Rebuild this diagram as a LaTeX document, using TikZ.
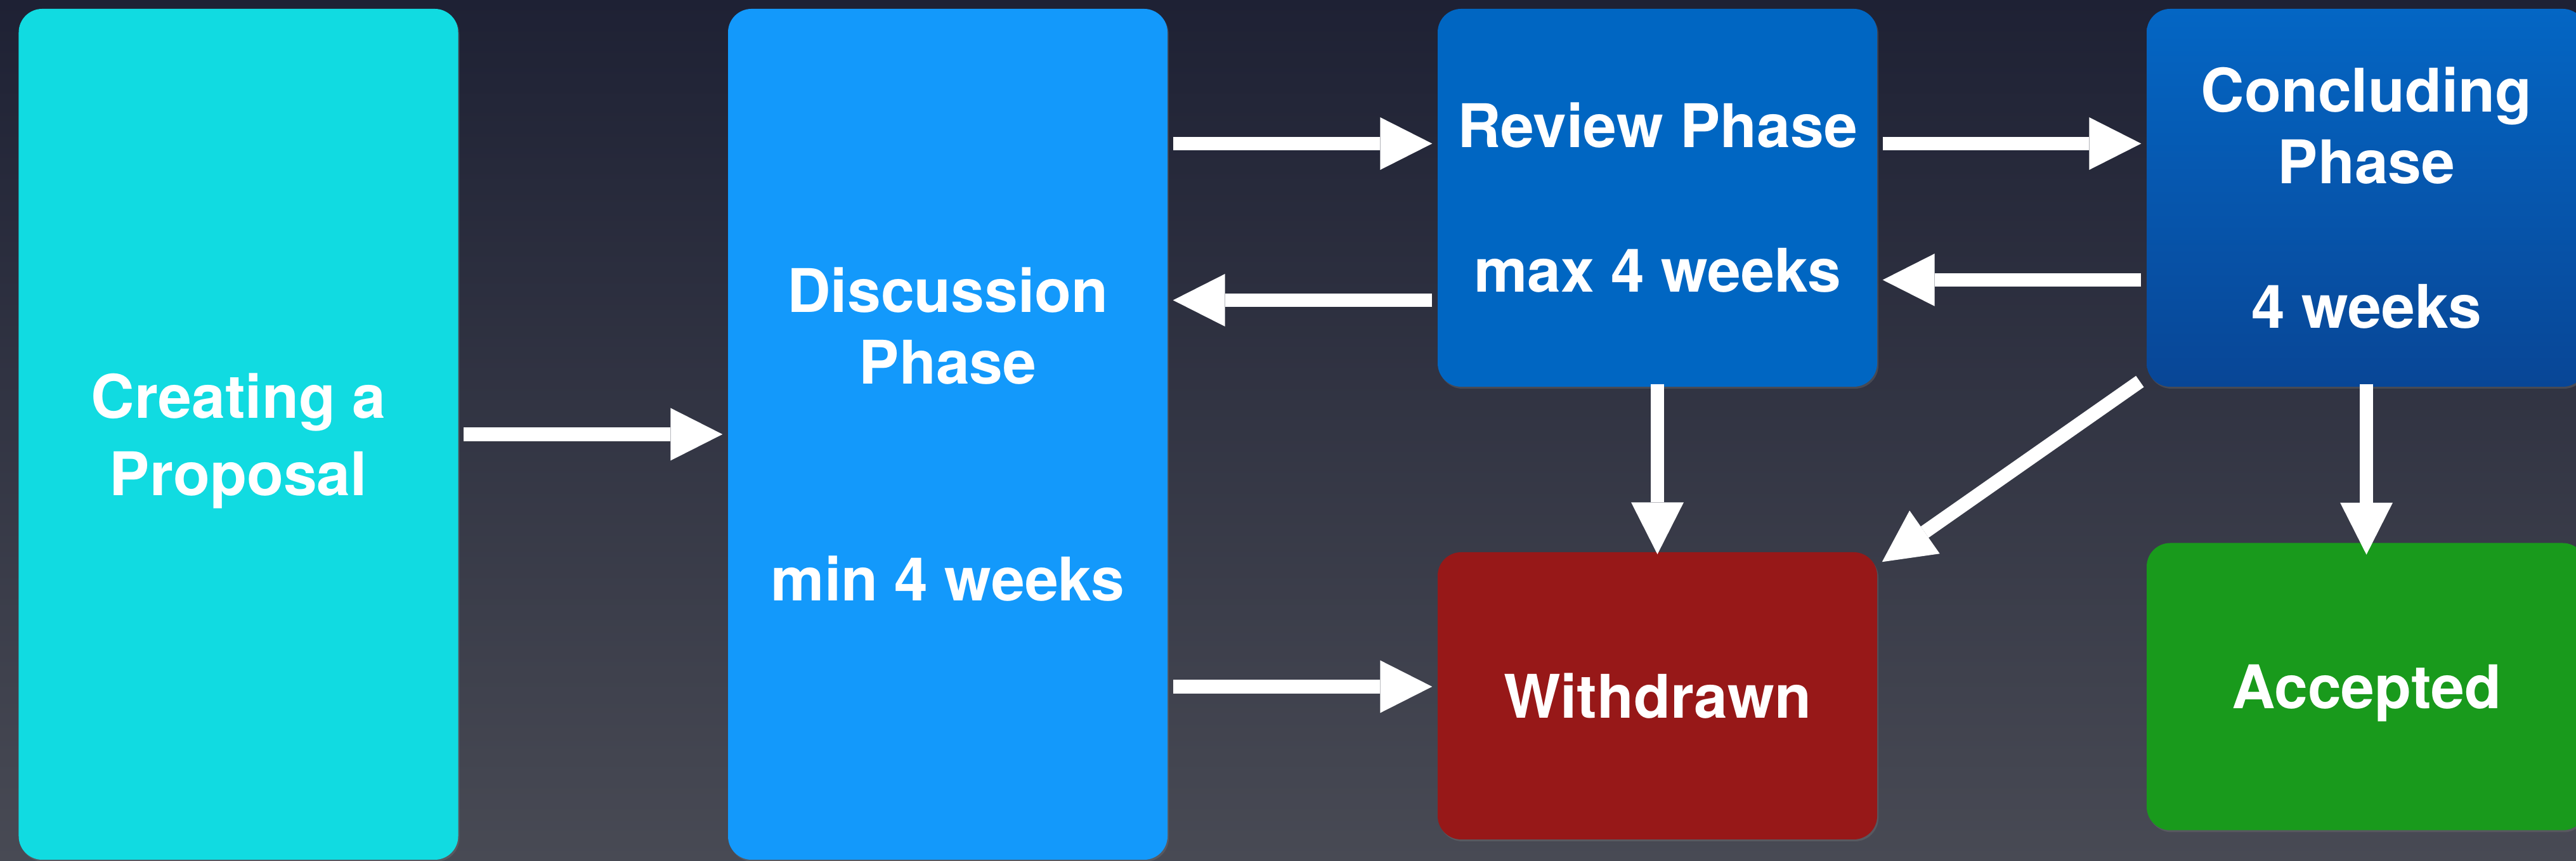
\documentclass[tikz,border=0pt]{standalone}
\usepackage{fontspec}
\setmainfont{TeX Gyre Heros}
\usepackage{tikz}
\usetikzlibrary{shapes.geometric, arrows.meta, shadows}
\definecolor{bgtop}{RGB}{30,33,52}
\definecolor{bgbottom}{RGB}{72,74,84}
\definecolor{createcol}{RGB}{17,219,225}
\definecolor{discusscol}{RGB}{19,153,251}
\definecolor{reviewcol}{RGB}{0,102,194}
\definecolor{concludetop}{RGB}{4,102,196}
\definecolor{concludebottom}{RGB}{8,70,150}
\definecolor{withdrawncol}{RGB}{151,24,24}
\definecolor{acceptedcol}{RGB}{25,154,28}
\newcommand{\phasefont}{\fontsize{27}{32.4}\selectfont\bfseries}
\tikzstyle{phase} = [rectangle, rounded corners = 0.37cm, minimum width = 6.93cm, align = center, text = white, font = \phasefont, drop shadow = {shadow xshift = 0.02cm, shadow yshift = -0.03cm, opacity = 0.3}]
\tikzstyle{tallphase} = [phase, minimum height = 13.42cm]
\tikzstyle{shortphase} = [phase, minimum height = 5.96cm]
\tikzstyle{outcome} = [phase, minimum height = 4.53cm]
\tikzstyle{flow} = [draw = white, line width = 0.216cm, -{Triangle[length = 0.82cm, width = 0.83cm, line width = 0pt]}, shorten <= 0.08cm, shorten >= 0.08cm]

\begin{document}
\begin{tikzpicture}
	\shade [top color = bgtop, bottom color = bgbottom] (-3.76, -6.73) rectangle (36.86, 6.85);
	\useasboundingbox (-3.76, -6.73) rectangle (36.86, 6.85);

	\node (create)[tallphase, fill = createcol, text depth = 0pt]{Creating a\\[0.075cm]Proposal};
	\node (discuss)[tallphase, fill = discusscol, right of = create, xshift = 10.185cm]{Discussion\\Phase\\[2.28cm]min 4 weeks};
	\node (review)[shortphase, fill = reviewcol, right of = discuss, xshift = 10.19cm, yshift = 3.73cm]{Review Phase\\[1.14cm]max 4 weeks};
	\node (conclude)[shortphase, top color = concludetop, bottom color = concludebottom, right of = review, xshift = 10.18cm]{Concluding\\Phase\\[1.14cm]4 weeks};
	\node (withdrawn)[outcome, fill = withdrawncol, below of = review, yshift = -6.855cm]{Withdrawn};
	\node (accepted)[outcome, fill = acceptedcol, text depth = 0pt, below of = conclude, yshift = -6.71cm]{Accepted};

	\coordinate (toreview) at ([yshift = 0.855cm]review.west);
	\coordinate (todiscuss) at ([yshift = -1.615cm]review.west);
	\coordinate (towithdrawn) at ([yshift = 0.145cm]withdrawn.west);
	\coordinate (toconclude) at ([yshift = 0.855cm]conclude.west);
	\coordinate (fromconclude) at ([yshift = -1.295cm]conclude.west);

	\draw [flow] (create) -- (discuss);
	\draw [flow] (discuss.east |- toreview) -- (toreview);
	\draw [flow] (todiscuss) -- (discuss.east |- todiscuss);
	\draw [flow] (discuss.east |- towithdrawn) -- (towithdrawn);
	\draw [flow] (review.east |- toconclude) -- (toconclude);
	\draw [flow] (fromconclude) -- (review.east |- fromconclude);

	\draw [flow, shorten <= -0.05cm, shorten >= -0.04cm] (review) -- (withdrawn);
	\draw [flow, shorten <= 0cm, shorten >= 0cm] ([xshift = -0.1cm, yshift = 0.09cm]conclude.south west) -- ([xshift = 0.07cm, yshift = -0.16cm]withdrawn.north east);
	\draw [flow, shorten <= -0.05cm, shorten >= -0.19cm] (conclude) -- (accepted);
\end{tikzpicture}
\end{document}
